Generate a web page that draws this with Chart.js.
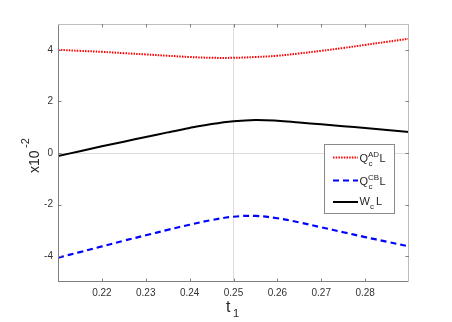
<!DOCTYPE html>
<html>
<head>
<meta charset="utf-8">
<script src="https://cdn.jsdelivr.net/npm/chart.js@4.4.1/dist/chart.umd.min.js"></script>
<style>
  html, body { margin: 0; padding: 0; background: #fff; }
  #wrap { width: 452px; height: 322px; }
</style>
</head>
<body>
<div id="wrap"><canvas id="chart" width="452" height="322"></canvas></div>
<script>
var tValues = [0.21, 0.215, 0.22, 0.225, 0.23, 0.235, 0.24, 0.245, 0.25, 0.255, 0.26, 0.265, 0.27, 0.275, 0.28, 0.285, 0.29];
var qAD = [4.00, 3.96, 3.92, 3.87, 3.82, 3.77, 3.72, 3.69, 3.69, 3.72, 3.77, 3.86, 3.96, 4.07, 4.19, 4.31, 4.43];
var qCB = [-4.06, -3.84, -3.62, -3.40, -3.19, -2.98, -2.78, -2.60, -2.47, -2.44, -2.53, -2.69, -2.88, -3.07, -3.26, -3.44, -3.62];
var wc = [-0.12, 0.07, 0.26, 0.44, 0.62, 0.80, 0.97, 1.12, 1.23, 1.28, 1.25, 1.18, 1.11, 1.04, 0.97, 0.89, 0.81];
var xTicks = [0.22, 0.23, 0.24, 0.25, 0.26, 0.27, 0.28];
var yTicks = [-4, -2, 0, 2, 4];

var FONT = '"Liberation Sans", Arial, Helvetica, sans-serif';

function toPoints(ys) {
  return tValues.map(function (t, i) { return { x: t, y: ys[i] }; });
}

function near(a, b) { return Math.abs(a - b) < 1e-9; }

// box, inward ticks, legend and axis titles, MATLAB style
var matlabFrame = {
  id: 'matlabFrame',
  afterDraw: function (chart) {
    var ctx = chart.ctx;
    var a = chart.chartArea;
    var xs = chart.scales.x, ys = chart.scales.y;
    ctx.save();

    ctx.strokeStyle = '#7f7f7f';
    ctx.lineWidth = 1;
    ctx.strokeRect(a.left + 0.5, a.top + 0.5, a.right - a.left - 1, a.bottom - a.top - 1);
    ctx.strokeStyle = '#bdbdbd';
    ctx.beginPath();
    ctx.moveTo(a.left, a.top + 0.5);
    ctx.lineTo(a.right, a.top + 0.5);
    ctx.moveTo(a.right - 0.5, a.top);
    ctx.lineTo(a.right - 0.5, a.bottom);
    ctx.stroke();

    ctx.strokeStyle = '#7f7f7f';
    ctx.beginPath();
    xTicks.forEach(function (v) {
      var px = Math.round(xs.getPixelForValue(v)) + 0.5;
      ctx.moveTo(px, a.bottom); ctx.lineTo(px, a.bottom - 3.5);
      ctx.moveTo(px, a.top); ctx.lineTo(px, a.top + 3.5);
    });
    yTicks.forEach(function (v) {
      var py = Math.round(ys.getPixelForValue(v)) + 0.5;
      ctx.moveTo(a.left, py); ctx.lineTo(a.left + 3.5, py);
      ctx.moveTo(a.right, py); ctx.lineTo(a.right - 3.5, py);
    });
    ctx.stroke();

    // legend
    var lx = 324.5, ly = 144.5, lw = 70, lh = 69;
    ctx.fillStyle = '#fff';
    ctx.fillRect(lx, ly, lw, lh);
    ctx.strokeStyle = '#8a8a8a';
    ctx.strokeRect(lx, ly, lw, lh);

    var items = [
      { ds: chart.data.datasets[0], y: 157.5, sup: 'AD' },
      { ds: chart.data.datasets[1], y: 180.5, sup: 'CB' },
      { ds: chart.data.datasets[2], y: 202, sup: null }
    ];
    items.forEach(function (it) {
      ctx.save();
      ctx.strokeStyle = it.ds.borderColor;
      ctx.lineWidth = it.ds.borderWidth;
      ctx.setLineDash(it.ds.borderDash || []);
      ctx.beginPath();
      ctx.moveTo(333, it.y);
      ctx.lineTo(358, it.y);
      ctx.stroke();
      ctx.restore();

      ctx.fillStyle = '#262626';
      ctx.textBaseline = 'alphabetic';
      ctx.textAlign = 'left';
      var base = it.y + 4;
      if (it.sup) {
        ctx.font = '11px ' + FONT;
        ctx.fillText('Q', 359.5, base);
        ctx.font = '8px ' + FONT;
        ctx.fillText(it.sup, 368, base - 5);
        ctx.fillText('c', 368.5, base + 4);
        ctx.font = '11px ' + FONT;
        ctx.fillText('L', 379.5, base);
      } else {
        ctx.font = '11px ' + FONT;
        ctx.fillText('W', 359.5, base - 1);
        ctx.font = '8px ' + FONT;
        ctx.fillText('c', 370, base + 3);
        ctx.font = '11px ' + FONT;
        ctx.fillText('L', 376, base - 1);
      }
    });

    // x title: t with subscript 1
    ctx.fillStyle = '#262626';
    ctx.font = '16px ' + FONT;
    ctx.textAlign = 'left';
    ctx.fillText('t', 226, 312);
    ctx.font = '11px ' + FONT;
    ctx.fillText('1', 233, 317);

    // y title: x10 with superscript -2, rotated
    ctx.translate(39, 173);
    ctx.rotate(-Math.PI / 2);
    ctx.font = '14px ' + FONT;
    ctx.fillText('x10', 0, 0);
    ctx.font = '11px ' + FONT;
    ctx.fillText('-2', 25, -10);

    ctx.restore();
  }
};

var ctx = document.getElementById('chart').getContext('2d');
var chart = new Chart(ctx, {
  type: 'line',
  data: {
    datasets: [
      {
        label: 'Q_c^AD L',
        data: toPoints(qAD),
        borderColor: '#ff0000',
        borderWidth: 2,
        borderDash: [1.5, 1.2],
        pointRadius: 0,
        tension: 0.4,
        fill: false
      },
      {
        label: 'Q_c^CB L',
        data: toPoints(qCB),
        borderColor: '#0000ff',
        borderWidth: 2.2,
        borderDash: [6, 4],
        pointRadius: 0,
        tension: 0.4,
        fill: false
      },
      {
        label: 'W_c L',
        data: toPoints(wc),
        borderColor: '#000000',
        borderWidth: 2,
        pointRadius: 0,
        tension: 0.4,
        fill: false
      }
    ]
  },
  options: {
    responsive: false,
    animation: false,
    layout: { padding: { top: 24, right: 43, left: 0, bottom: 0 } },
    plugins: {
      legend: { display: false },
      tooltip: { enabled: false }
    },
    scales: {
      x: {
        type: 'linear',
        min: 0.21,
        max: 0.29,
        afterBuildTicks: function (scale) {
          scale.ticks = xTicks.map(function (v) { return { value: v }; });
        },
        afterFit: function (scale) { scale.height = 40; },
        border: { display: false },
        grid: {
          drawTicks: false,
          color: function (c) { return c.tick && near(c.tick.value, 0.25) ? '#dcdcdc' : 'rgba(0,0,0,0)'; }
        },
        ticks: {
          padding: 5,
          color: '#333333',
          font: { family: FONT, size: 10 },
          maxRotation: 0,
          callback: function (v) { return v.toFixed(2); }
        }
      },
      y: {
        type: 'linear',
        min: -5,
        max: 5,
        afterBuildTicks: function (scale) {
          scale.ticks = yTicks.map(function (v) { return { value: v }; });
        },
        afterFit: function (scale) { scale.width = 58; },
        border: { display: false },
        grid: {
          drawTicks: false,
          color: function (c) { return c.tick && near(c.tick.value, 0) ? '#dcdcdc' : 'rgba(0,0,0,0)'; }
        },
        ticks: {
          padding: 5,
          color: '#333333',
          font: { family: FONT, size: 10 },
          callback: function (v) { return String(v); }
        }
      }
    }
  },
  plugins: [matlabFrame]
});
</script>
</body>
</html>
